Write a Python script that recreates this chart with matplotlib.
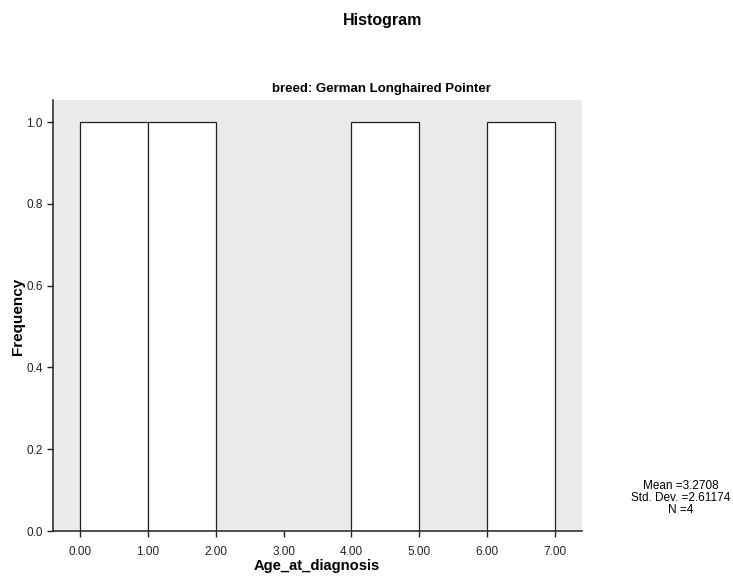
import numpy as np
import matplotlib.pyplot as plt

plt.rcParams['font.family'] = ['Liberation Sans', 'DejaVu Sans']

# histogram bins (Age_at_diagnosis) and counts
bin_edges = [0, 1, 2, 3, 4, 5, 6, 7]
counts = [1, 1, 0, 0, 1, 0, 1]
xticks = [0, 1, 2, 3, 4, 5, 6, 7]
yticks = [0.0, 0.2, 0.4, 0.6, 0.8, 1.0]
stats = ['Mean =3.2708', 'Std. Dev. =2.61174', 'N =4']

W, H = 733, 577
fig = plt.figure(figsize=(W / 100, H / 100), dpi=100)
ax = fig.add_axes([53 / W, 1 - 531 / H, (582 - 53) / W, (531 - 100) / H])
ax.set_facecolor('#ebebeb')

lefts = np.array(bin_edges[:-1])
widths = np.diff(bin_edges)
for l, w, c in zip(lefts, widths, counts):
    if c > 0:
        ax.bar(l, c, width=w, align='edge', color='white', edgecolor='#222222', linewidth=0.9)

ax.set_xlim(-0.4, 7.4)
ax.set_ylim(0, 1.054)
ax.set_xticks(xticks)
ax.set_xticklabels(['%.2f' % t for t in xticks])
ax.set_yticks(yticks)
ax.set_yticklabels(['%.1f' % t for t in yticks])
ax.tick_params(labelsize=8.5, length=4.5, width=1, direction='out', colors='#222222')
ax.tick_params(axis='x', pad=6)
ax.tick_params(axis='y', pad=3)
for s in ['top', 'right']:
    ax.spines[s].set_visible(False)
for s in ['left', 'bottom']:
    ax.spines[s].set_linewidth(1.1)
    ax.spines[s].set_color('#222222')

# titles and axis labels placed like the SPSS output
fig.text(383 / W, 1 - 21 / H, 'Histogram', ha='center', va='center', fontsize=11.5, fontweight='bold')
fig.text(381 / W, 1 - 89 / H, 'breed: German Longhaired Pointer', ha='center', va='center',
         fontsize=9.5, fontweight='bold')
fig.text(317 / W, 1 - 566 / H, 'Age_at_diagnosis', ha='center', va='center', fontsize=10.6, fontweight='bold')
fig.text(18.5 / W, 1 - 316 / H, 'Frequency', ha='center', va='center', rotation=90,
         fontsize=11, fontweight='bold')
fig.text(681 / W, 1 - 498 / H, '\n'.join(stats), ha='center', va='center', fontsize=8.5, linespacing=0.95)

fig.savefig('out.png', dpi=100)
